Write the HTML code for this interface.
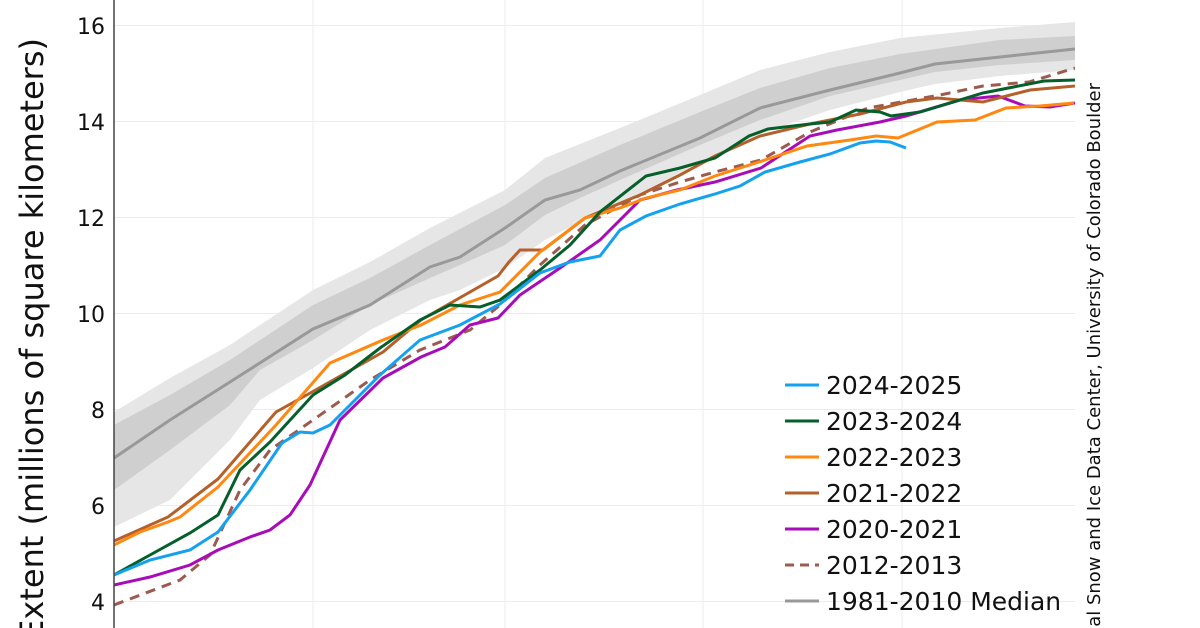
<!DOCTYPE html>
<html><head><meta charset="utf-8"><style>
html,body{margin:0;padding:0;background:#fff;width:1200px;height:628px;overflow:hidden;}
svg{display:block;overflow:hidden;font-family:"DejaVu Sans","Liberation Sans",sans-serif;}
</style></head><body>
<svg width="1200" height="628" viewBox="0 0 1200 628" xmlns="http://www.w3.org/2000/svg">
<defs><clipPath id="c"><rect x="114" y="0" width="961" height="628"/></clipPath></defs>
<g stroke="#ececec" stroke-width="1">
<line x1="114" y1="25.5" x2="1075" y2="25.5"/><line x1="114" y1="121.5" x2="1075" y2="121.5"/>
<line x1="114" y1="217.5" x2="1075" y2="217.5"/><line x1="114" y1="313.5" x2="1075" y2="313.5"/>
<line x1="114" y1="409.5" x2="1075" y2="409.5"/><line x1="114" y1="505.5" x2="1075" y2="505.5"/>
<line x1="114" y1="601.5" x2="1075" y2="601.5"/>
<line x1="313" y1="0" x2="313" y2="628"/><line x1="505" y1="0" x2="505" y2="628"/>
<line x1="703" y1="0" x2="703" y2="628"/><line x1="902" y1="0" x2="902" y2="628"/>
</g>
<g clip-path="url(#c)">
<polygon fill="#e6e6e6" points="114,412 170,378 230,345 313,290 370,262 430,228 505,190 545,158 620,128 700,95 760,70 830,52 900,38 1000,28 1075,22 1075,70 1000,76 935,84 900,92 830,110 760,134 700,162 620,205 580,222 545,240 505,268 460,290 430,300 370,330 313,368 260,400 230,440 170,500 114,527"/>
<polygon fill="#cfcfcf" points="114,425 170,395 230,360 313,305 370,278 430,245 505,205 545,178 620,145 700,112 760,88 830,68 900,54 1000,40 1075,36 1075,60 1000,65 935,72 900,80 830,96 760,120 700,145 620,180 580,198 545,215 505,245 460,265 430,278 370,305 313,340 260,370 230,405 170,450 114,490"/>
<polyline fill="none" stroke="#999" stroke-width="3" points="114,458 170,420 230,382 313,329 370,305 430,267 460,257 505,228 545,200 580,190 620,171 700,138 760,108 830,90 900,73 935,64 1000,57 1075,49"/>
<polyline fill="none" stroke="#9c5b4e" stroke-width="3" stroke-dasharray="10,7" points="114,605 180,580 210,555 240,490 270,450 313,420 370,380 420,350 470,330 500,305 540,265 585,225 640,195 680,182 715,172 761,160 810,132 868,108 940,95 983,86 1029,82 1075,68"/>
<polyline fill="none" stroke="#a80bb8" stroke-width="3" points="114,585 150,577 190,565 218,550 250,537 270,530 290,515 310,485 340,420 383,378 421,357 445,347 470,325 498,318 520,295 560,268 600,240 640,200 677,190 715,182 761,168 810,136 837,130 880,122 906,116 960,100 998,96 1025,106 1050,107 1075,103"/>
<polyline fill="none" stroke="#b5602a" stroke-width="3" points="114,541 168,517 218,479 276,412 312,392 383,352 421,320 498,276 509,262 520,250 543,250 585,218 640,195 680,175 715,156 760,136 810,124 860,114 906,102 937,98 983,102 1030,90 1075,86"/>
<polyline fill="none" stroke="#ff8810" stroke-width="3" points="114,545 140,532 168,522 180,517 218,487 276,425 330,363 383,340 421,325 460,305 500,292 540,252 585,218 620,208 646,198 680,190 715,176 765,160 807,146 850,140 876,136 898,138 937,122 975,120 1006,108 1040,106 1074,103"/>
<polyline fill="none" stroke="#045f2a" stroke-width="3" points="114,575 150,555 190,533 218,515 240,470 270,442 313,395 345,375 380,348 420,320 450,305 480,307 500,300 540,270 570,245 600,212 646,176 680,168 715,158 749,136 768,129 810,124 830,122 856,110 880,112 891,116 920,112 983,93 1044,81 1075,80"/>
<polyline fill="none" stroke="#14a1f0" stroke-width="3" points="114,575 150,560 190,550 218,532 250,490 282,443 300,432 313,433 330,425 345,410 380,375 420,340 460,325 500,304 540,273 570,262 600,256 620,230 646,216 680,204 715,194 740,186 765,172 800,162 830,154 860,143 876,141 890,142 906,148"/>
</g>
<line x1="114" y1="0" x2="114" y2="628" stroke="#444" stroke-width="1.5"/>
<g font-size="22" fill="#111" text-anchor="end">
<text x="105" y="34">16</text><text x="105" y="130">14</text><text x="105" y="226">12</text>
<text x="105" y="322">10</text><text x="105" y="418">8</text><text x="105" y="514">6</text><text x="105" y="610">4</text>
</g>
<text transform="translate(43,38) rotate(-90)" text-anchor="end" font-size="32" fill="#111">Extent (millions of square kilometers)</text>
<text transform="translate(1100,83) rotate(-90)" text-anchor="end" font-size="18" fill="#111">National Snow and Ice Data Center, University of Colorado Boulder</text>
<g stroke-width="3">
<line x1="785" y1="385" x2="819" y2="385" stroke="#14a1f0"/>
<line x1="785" y1="421" x2="819" y2="421" stroke="#045f2a"/>
<line x1="785" y1="457" x2="819" y2="457" stroke="#ff8810"/>
<line x1="785" y1="493" x2="819" y2="493" stroke="#b5602a"/>
<line x1="785" y1="529" x2="819" y2="529" stroke="#a80bb8"/>
<line x1="785" y1="565" x2="819" y2="565" stroke="#9c5b4e" stroke-dasharray="9,6"/>
<line x1="785" y1="601" x2="819" y2="601" stroke="#999"/>
</g>
<g font-size="25" fill="#111">
<text x="826" y="394">2024-2025</text><text x="826" y="430">2023-2024</text>
<text x="826" y="466">2022-2023</text><text x="826" y="502">2021-2022</text>
<text x="826" y="538">2020-2021</text><text x="826" y="574">2012-2013</text>
<text x="826" y="610">1981-2010 Median</text>
</g>
</svg>
</body></html>
